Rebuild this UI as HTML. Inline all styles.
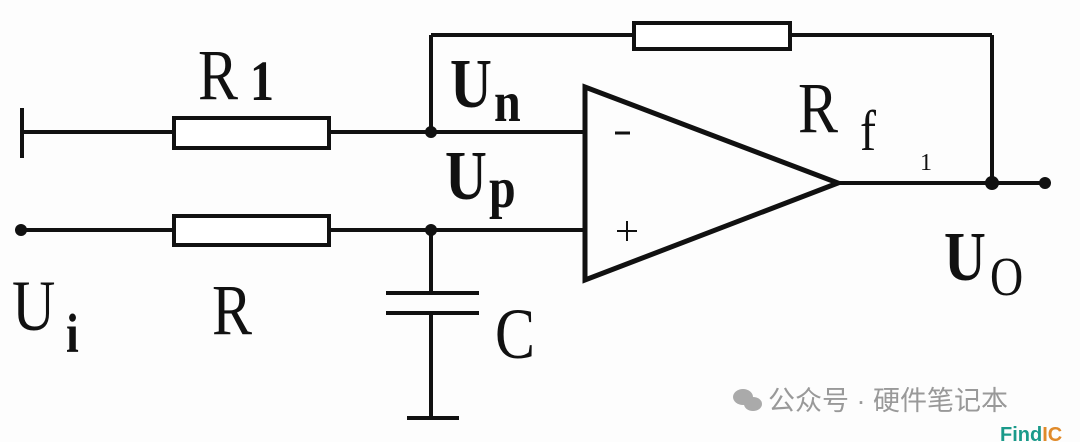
<!DOCTYPE html>
<html><head><meta charset="utf-8"><style>
html,body{margin:0;padding:0;background:#fff;}
svg{display:block}
</style></head><body>
<svg width="1080" height="442" viewBox="0 0 1080 442" xmlns="http://www.w3.org/2000/svg">
<rect width="1080" height="442" fill="#fdfdfd"/>
<g stroke="#111" stroke-width="4" fill="none">
<line x1="22" y1="108" x2="22" y2="158"/>
<line x1="22" y1="132" x2="583" y2="132"/>
<rect x="174" y="118" width="155" height="30" fill="#fff"/>
<line x1="21" y1="230" x2="583" y2="230"/>
<rect x="174" y="216" width="155" height="29" fill="#fff"/>
<line x1="431" y1="132" x2="431" y2="35"/>
<line x1="431" y1="35" x2="992" y2="35"/>
<rect x="634" y="23" width="156" height="26" fill="#fff"/>
<line x1="992" y1="35" x2="992" y2="183"/>
<line x1="838" y1="183" x2="1045" y2="183"/>
<line x1="431" y1="230" x2="431" y2="293"/>
<line x1="386" y1="293" x2="479" y2="293"/>
<line x1="386" y1="313" x2="479" y2="313"/>
<line x1="431" y1="313" x2="431" y2="418"/>
<line x1="407" y1="418" x2="459" y2="418"/>
<polygon points="585,87 585,280 838,183" stroke-width="5"/>
<line x1="615" y1="133" x2="630" y2="133" stroke-width="3"/>
<line x1="617" y1="231" x2="637" y2="231" stroke-width="2"/>
<line x1="627" y1="221" x2="627" y2="241" stroke-width="2"/>
</g>
<g fill="#111">
<circle cx="431" cy="132" r="6"/>
<circle cx="431" cy="230" r="6"/>
<circle cx="21" cy="230" r="6"/>
<circle cx="992" cy="183" r="7"/>
<circle cx="1045" cy="183" r="6"/>
</g>
<g font-family="'Liberation Serif',serif" fill="#111">
<text transform="translate(198,99) scale(1,1.2)" font-size="60">R</text>
<text transform="translate(250,100) scale(1,1.2)" font-size="48" font-weight="bold">1</text>
<text transform="translate(450,107) scale(1,1.2)" font-size="58" font-weight="bold">U</text>
<text transform="translate(494,121) scale(1,1.2)" font-size="48" font-weight="bold">n</text>
<text transform="translate(445,199) scale(1,1.2)" font-size="58" font-weight="bold">U</text>
<text transform="translate(489,207) scale(1,1.2)" font-size="48" font-weight="bold">p</text>
<text transform="translate(798,132) scale(1,1.2)" font-size="60">R</text>
<text transform="translate(860,150) scale(1,1.2)" font-size="48">f</text>
<text x="920" y="170" font-size="24">1</text>
<text transform="translate(944,280) scale(1,1.2)" font-size="58" font-weight="bold">U</text>
<text transform="translate(990,295) scale(1,1.2)" font-size="46">O</text>
<text transform="translate(12,330) scale(1,1.2)" font-size="60">U</text>
<text transform="translate(66,352) scale(1,1.2)" font-size="46" font-weight="bold">i</text>
<text transform="translate(212,334) scale(1,1.2)" font-size="60">R</text>
<text transform="translate(495,358) scale(1,1.2)" font-size="60">C</text>
</g>
<g fill="#aaa">
<ellipse cx="743" cy="397" rx="10" ry="8"/>
<ellipse cx="753" cy="404" rx="9" ry="7"/>
</g>
<text x="768" y="410" font-family="'Liberation Sans','Noto Sans CJK SC',sans-serif" font-size="27" fill="#999">公众号 · 硬件笔记本</text>
<text x="1000" y="441" font-family="'Liberation Sans',sans-serif" font-weight="bold" font-size="20" fill="#1a9a8a">Find<tspan fill="#e08a2a">IC</tspan></text>
</svg>
</body></html>
